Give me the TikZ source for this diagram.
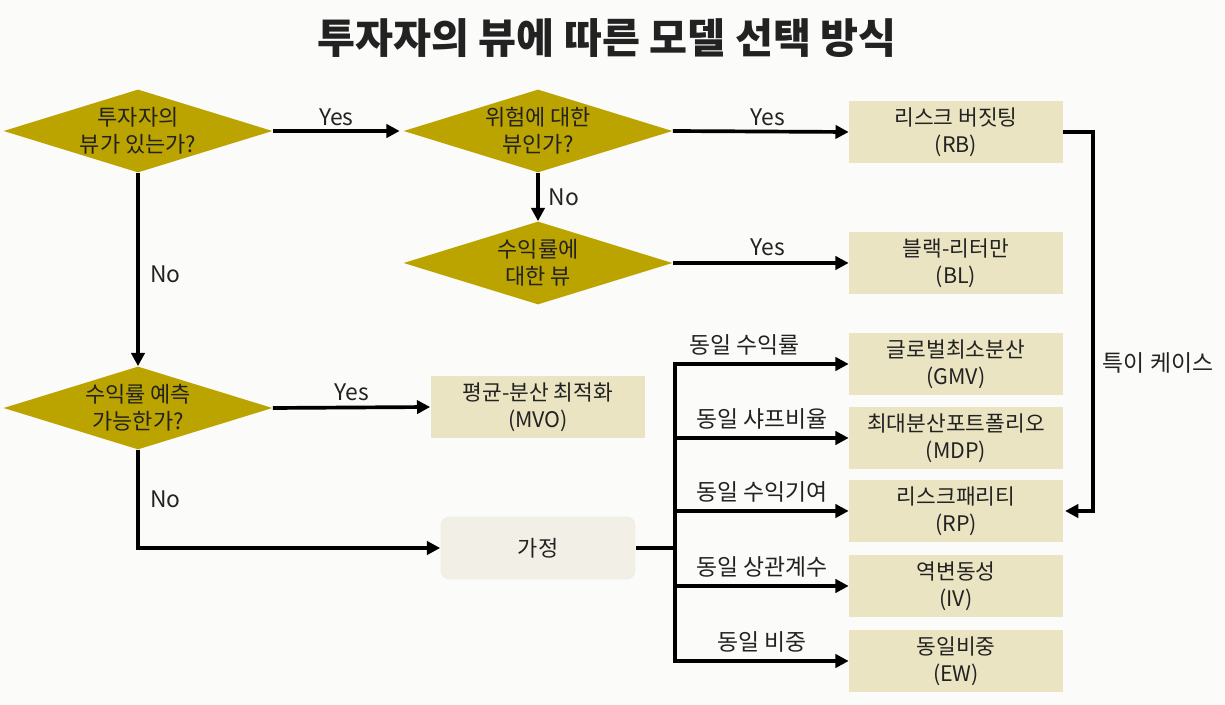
\documentclass[tikz,border=0pt]{standalone}
\usepackage{fontspec}
\setmainfont{Noto Sans CJK KR}
\usetikzlibrary{shapes.geometric,arrows.meta}
\definecolor{dia}{HTML}{BBA300}
\definecolor{boxc}{HTML}{EAE4C2}
\definecolor{asmc}{HTML}{F2EFE7}
\definecolor{bg}{HTML}{FBFBF9}
\definecolor{txt}{HTML}{222222}
\begin{document}
\begin{tikzpicture}[x=0.02cm,y=-0.02cm,
  every node/.style={text=txt},
  dec/.style={diamond, aspect=3.24, fill=dia, minimum width=5.38cm, minimum height=1.66cm, inner sep=0pt, align=center, font=\fontsize{12.5pt}{15.5pt}\selectfont},
  mbox/.style={rectangle, fill=boxc, minimum width=4.28cm, minimum height=1.25cm, inner sep=0pt, align=center, font=\fontsize{12.2pt}{15.5pt}\selectfont},
  abox/.style={rectangle, rounded corners=5pt, fill=asmc, minimum width=3.9cm, minimum height=1.26cm, inner sep=0pt, align=center, font=\fontsize{12.5pt}{15pt}\selectfont},
  lbl/.style={font=\fontsize{13pt}{15pt}\selectfont, inner sep=4pt},
  conn/.style={line width=2.1pt, draw=black},
  arr/.style={conn, -{Triangle[length=7.5pt,width=7.5pt]}}
]
\fill[bg] (0,0) rectangle (1225,705);
\useasboundingbox (0,0) rectangle (1225,705);

\node[font=\fontsize{23.5pt}{28pt}\selectfont\bfseries] (title) at (607,38) {투자자의 뷰에 따른 모델 선택 방식};

\node[dec] (d1) at (138,131) {투자자의\\뷰가 있는가?};
\node[dec] (d2) at (538,131) {위험에 대한\\뷰인가?};
\node[dec] (d3) at (538,263) {수익률에\\대한 뷰};
\node[dec] (d4) at (138,408) {수익률 예측\\가능한가?};

\node[mbox] (rb) at (956,132) {리스크 버짓팅\\(RB)};
\node[mbox] (bl) at (956,263) {블랙-리터만\\(BL)};
\node[mbox] (gmv) at (956,364) {글로벌최소분산\\(GMV)};
\node[mbox] (mdp) at (956,438) {최대분산포트폴리오\\(MDP)};
\node[mbox] (rp) at (956,511) {리스크패리티\\(RP)};
\node[mbox] (iv) at (956,586) {역변동성\\(IV)};
\node[mbox] (ew) at (956,661) {동일비중\\(EW)};
\node[mbox, minimum width=4.3cm] (mvo) at (538,407) {평균-분산 최적화\\(MVO)};
\node[abox] (asm) at (538,548) {가정};

\draw[arr] (d1.east) -- ([xshift=-2pt]d2.west) node[midway, above, lbl, yshift=-2pt] {Yes};
\draw[arr] (d2.east) -- (rb.west) node[midway, above, lbl, xshift=4pt, yshift=-2pt] {Yes};
\draw[arr] (d2.south) -- (d3.north) node[midway, right, lbl, xshift=1pt] {No};
\draw[arr] (d3.east) -- (bl.west) node[midway, above, lbl, xshift=4pt, yshift=-1pt] {Yes};
\draw[arr] (d1.south) -- (d4.north) node[midway, right, lbl, xshift=2pt, yshift=-3pt] {No};
\draw[arr] (d4.east) -- (mvo.west) node[midway, above, lbl, yshift=-1pt] {Yes};
\draw[arr] (d4.south) |- (asm.west) node[pos=0.25, right, lbl, xshift=2pt] {No};

\coordinate (bus) at (675,548);
\draw[conn] (asm.east) -- (bus);
\draw[conn] ([yshift=1.05pt]bus |- gmv.west) -- ([yshift=-1.05pt]bus |- ew.west);
\draw[arr] (bus |- gmv.west) -- (gmv.west) node[midway, above, lbl, xshift=-10pt] {동일 수익률};
\draw[arr] (bus |- mdp.west) -- (mdp.west) node[midway, above, lbl] {동일 샤프비율};
\draw[arr] (bus |- rp.west) -- (rp.west) node[midway, above, lbl] {동일 수익기여};
\draw[arr] (bus |- iv.west) -- (iv.west) node[midway, above, lbl] {동일 상관계수};
\draw[arr] (bus |- ew.west) -- (ew.west) node[midway, above, lbl] {동일 비중};

\coordinate (sc) at (1093,132);
\draw[arr] (rb.east) -- (sc) |- ([xshift=1pt]rp.east);
\node[lbl] (sclbl) at (1158,363) {특이 케이스};
\end{tikzpicture}
\end{document}
